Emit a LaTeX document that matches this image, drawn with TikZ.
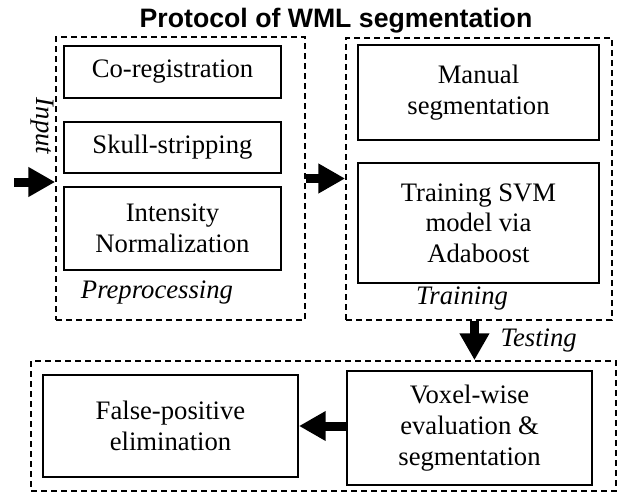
\documentclass[tikz,border=0pt]{standalone}
\usepackage{fontspec}
\setmainfont{Liberation Serif}
\newfontfamily\headfont{Liberation Sans}
\usetikzlibrary{arrows.meta,fit}

\tikzset{
  stepbox/.style={draw, line width=1.5pt, inner sep=0pt, align=center,
    font=\fontsize{20}{23}\selectfont},
  boxsize/.style 2 args={minimum width=#1*0.75pt, minimum height=#2*0.75pt},
  stagebox/.style={draw, dash pattern=on 4.5pt off 3pt, line width=1.3pt, inner sep=0pt},
  stagelabel/.style={font=\fontsize{20}{23}\selectfont\itshape},
  flow/.style={line width=6.75pt, -{Triangle[length=20pt,width=21pt]}},
}

\begin{document}
\begin{tikzpicture}[x=0.75pt,y=-0.75pt]
  \useasboundingbox (0,0) rectangle (618,493);

  % Title
  \node[font=\headfont\bfseries\fontsize{20}{23}\selectfont] (title) at (336,21)
    {Protocol of WML segmentation};

  % Preprocessing stage
  \node[stagebox, fit={(56,37) (305,320)}] (prep) {};
  \node[stepbox, boxsize={217}{52}] (coreg) at (172.5,72) {Co-registration};
  \node[stepbox, boxsize={217}{51}] (skull) at (172.5,147.5) {Skull-stripping};
  \node[stepbox, boxsize={217}{83}] (norm) at (172.5,228.5) {Intensity\\Normalization};
  \node[stagelabel] (preplabel) at (157,293) {Preprocessing};

  % Training stage
  \node[stagebox, fit={(346,38) (612,320)}] (train) {};
  \node[stepbox, boxsize={241}{95}] (manual) at (478.5,92.5) {Manual\\segmentation};
  \node[stepbox, boxsize={241}{120}] (svm) at (478.5,223) {Training SVM\\model via\\Adaboost};
  \node[stagelabel] (trainlabel) at (462,299) {Training};

  % Testing stage
  \node[stagebox, fit={(31,361) (616,491)}] (test) {};
  \node[stepbox, boxsize={245}{114}] (voxel) at (469.5,428) {Voxel-wise\\evaluation \&\\segmentation};
  \node[stepbox, boxsize={255}{102}] (fpe) at (170.5,426) {False-positive\\elimination};
  \node[stagelabel, anchor=west] (testlabel) at (496,341) {Testing};

  % Input
  \node[stagelabel, rotate=-90] (inlabel) at (42,126) {Input};
  \coordinate (in) at (14,182);

  % Flow between the stages
  \draw[flow] (in) -- (in -| prep.west);
  \draw[flow] (prep.east) -- (prep.east -| train.west);
  \draw[flow] ([xshift=-3.4pt]train.south) -- ([xshift=-3.4pt]train.south |- test.north);
  \draw[flow] (voxel.west |- fpe.east) -- (fpe.east);
\end{tikzpicture}
\end{document}
